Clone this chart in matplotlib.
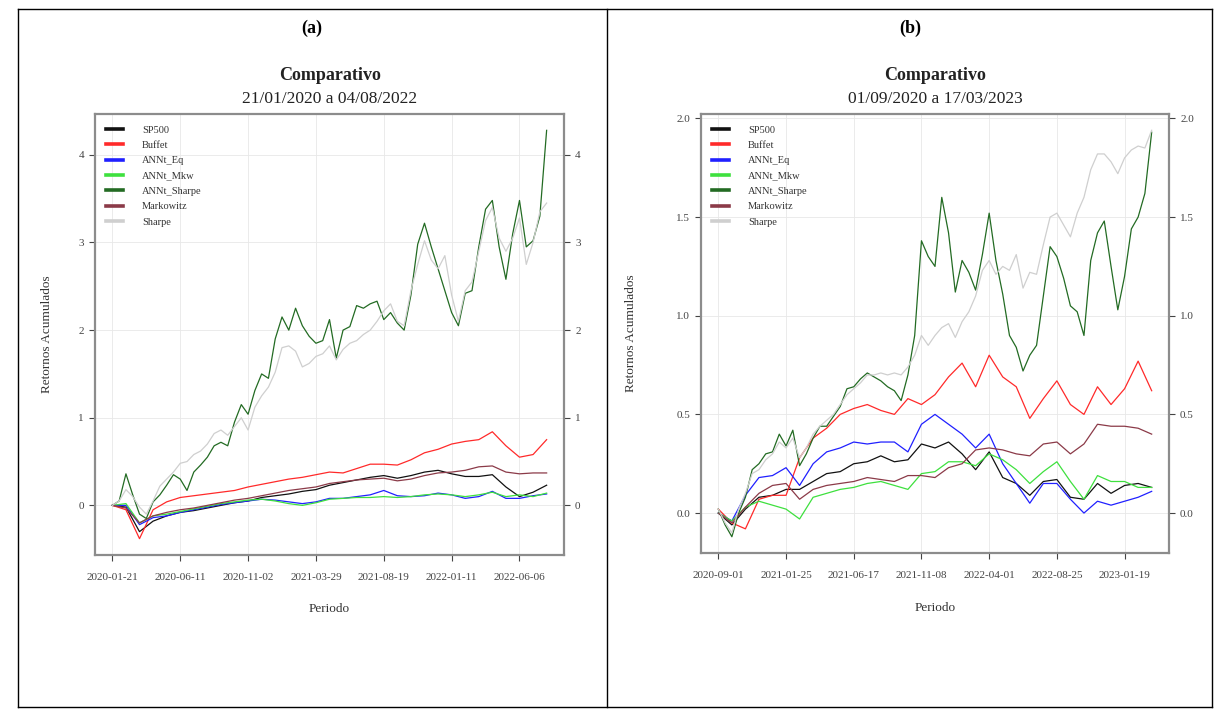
import numpy as np
import matplotlib
matplotlib.use("Agg")
import matplotlib.pyplot as plt
from matplotlib.lines import Line2D

plt.rcParams['font.family'] = ['Liberation Serif', 'DejaVu Serif']

# trading-day index of each sample (every 10 / every 20 sessions)
days10 = np.arange(0, 641, 10)
days20 = np.arange(0, 641, 20)

names = ["SP500", "Buffet", "ANNt_Eq", "ANNt_Mkw", "ANNt_Sharpe", "Markowitz", "Sharpe"]
colors = ["#111111", "#ff2a2a", "#2020ff", "#3ee03e", "#236b23", "#8b3a48", "#cfcfcf"]

# ---- panel (a): 21/01/2020 a 04/08/2022 ----
ticks_a = ["2020-01-21", "2020-06-11", "2020-11-02", "2021-03-29",
           "2021-08-19", "2022-01-11", "2022-06-06"]

sp500_a = [0.00, -0.02, -0.30, -0.18, -0.12, -0.08, -0.06, -0.03, 0.00, 0.03,
           0.05, 0.09, 0.11, 0.13, 0.16, 0.18, 0.23, 0.26, 0.29, 0.32,
           0.34, 0.31, 0.34, 0.38, 0.40, 0.36, 0.33, 0.33, 0.35, 0.21,
           0.10, 0.15, 0.23]
buffet_a = [0.00, -0.05, -0.38, -0.05, 0.04, 0.09, 0.11, 0.13, 0.15, 0.17,
            0.21, 0.24, 0.27, 0.30, 0.32, 0.35, 0.38, 0.37, 0.42, 0.47,
            0.47, 0.46, 0.52, 0.60, 0.64, 0.70, 0.73, 0.75, 0.84, 0.68,
            0.55, 0.58, 0.75]
ann_eq_a = [0.00, 0.00, -0.22, -0.14, -0.12, -0.08, -0.05, -0.02, 0.01, 0.03,
            0.05, 0.07, 0.06, 0.04, 0.02, 0.04, 0.08, 0.08, 0.10, 0.12,
            0.17, 0.11, 0.10, 0.11, 0.14, 0.12, 0.08, 0.10, 0.16, 0.08,
            0.08, 0.11, 0.13]
ann_mkw_a = [0.00, 0.02, -0.20, -0.12, -0.10, -0.07, -0.04, -0.01, 0.02, 0.04,
             0.06, 0.07, 0.05, 0.02, 0.00, 0.03, 0.07, 0.08, 0.09, 0.09,
             0.10, 0.09, 0.10, 0.12, 0.13, 0.12, 0.10, 0.12, 0.15, 0.10,
             0.12, 0.10, 0.14]
ann_sharpe_a = [0.00, 0.05, 0.36, 0.12, -0.10, -0.15, 0.04, 0.12, 0.23, 0.35,
                0.30, 0.17, 0.38, 0.46, 0.55, 0.68, 0.72, 0.68, 0.95, 1.15,
                1.04, 1.31, 1.50, 1.45, 1.90, 2.15, 2.00, 2.25, 2.05, 1.93,
                1.85, 1.88, 2.12, 1.68, 2.00, 2.04, 2.28, 2.25, 2.30, 2.33,
                2.12, 2.20, 2.08, 2.00, 2.40, 2.98, 3.22, 2.95, 2.70, 2.45,
                2.20, 2.05, 2.42, 2.45, 2.95, 3.38, 3.48, 2.95, 2.58, 3.10,
                3.48, 2.95, 3.02, 3.30, 4.28]
markowitz_a = [0.00, -0.03, -0.20, -0.12, -0.08, -0.05, -0.03, 0.00, 0.03, 0.06,
               0.08, 0.11, 0.14, 0.17, 0.19, 0.21, 0.25, 0.27, 0.29, 0.30,
               0.31, 0.28, 0.30, 0.34, 0.37, 0.38, 0.40, 0.44, 0.45, 0.38,
               0.36, 0.37, 0.37]
sharpe_a = [0.00, 0.05, 0.18, 0.10, -0.02, -0.10, 0.05, 0.22, 0.30, 0.38,
            0.48, 0.50, 0.58, 0.62, 0.70, 0.82, 0.86, 0.80, 0.90, 1.00,
            0.86, 1.12, 1.25, 1.35, 1.52, 1.80, 1.82, 1.76, 1.58, 1.62,
            1.70, 1.73, 1.82, 1.66, 1.78, 1.85, 1.88, 1.95, 2.00, 2.10,
            2.22, 2.30, 2.10, 2.05, 2.45, 2.75, 3.02, 2.80, 2.70, 2.85,
            2.40, 2.10, 2.45, 2.55, 2.90, 3.25, 3.40, 3.05, 2.90, 3.05,
            3.28, 2.75, 3.00, 3.35, 3.45]

# ---- panel (b): 01/09/2020 a 17/03/2023 ----
ticks_b = ["2020-09-01", "2021-01-25", "2021-06-17", "2021-11-08",
           "2022-04-01", "2022-08-25", "2023-01-19"]

sp500_b = [0.00, -0.06, 0.02, 0.08, 0.09, 0.12, 0.12, 0.16, 0.20, 0.21,
           0.25, 0.26, 0.29, 0.26, 0.27, 0.35, 0.33, 0.36, 0.30, 0.22,
           0.31, 0.18, 0.15, 0.09, 0.16, 0.17, 0.08, 0.07, 0.15, 0.10,
           0.14, 0.15, 0.13]
buffet_b = [0.02, -0.05, -0.08, 0.07, 0.09, 0.09, 0.28, 0.38, 0.43, 0.50,
            0.53, 0.55, 0.52, 0.50, 0.58, 0.55, 0.60, 0.69, 0.76, 0.64,
            0.80, 0.69, 0.64, 0.48, 0.58, 0.67, 0.55, 0.50, 0.64, 0.55,
            0.63, 0.77, 0.62]
ann_eq_b = [0.00, -0.04, 0.09, 0.18, 0.19, 0.23, 0.14, 0.25, 0.31, 0.33,
            0.36, 0.35, 0.36, 0.36, 0.31, 0.45, 0.50, 0.45, 0.40, 0.33,
            0.40, 0.25, 0.15, 0.05, 0.15, 0.15, 0.07, 0.00, 0.06, 0.04,
            0.06, 0.08, 0.11]
ann_mkw_b = [0.00, -0.04, 0.03, 0.06, 0.04, 0.02, -0.03, 0.08, 0.10, 0.12,
             0.13, 0.15, 0.16, 0.14, 0.12, 0.20, 0.21, 0.26, 0.26, 0.24,
             0.30, 0.27, 0.22, 0.15, 0.21, 0.26, 0.16, 0.07, 0.19, 0.16,
             0.16, 0.13, 0.13]
ann_sharpe_b = [0.02, -0.06, -0.12, 0.00, 0.08, 0.22, 0.25, 0.30, 0.31, 0.40,
                0.34, 0.42, 0.24, 0.30, 0.38, 0.44, 0.44, 0.49, 0.54, 0.63,
                0.64, 0.68, 0.71, 0.69, 0.67, 0.64, 0.62, 0.57, 0.70, 0.90,
                1.38, 1.30, 1.25, 1.60, 1.42, 1.12, 1.28, 1.22, 1.13, 1.31,
                1.52, 1.28, 1.11, 0.90, 0.84, 0.72, 0.80, 0.85, 1.10, 1.35,
                1.30, 1.19, 1.05, 1.02, 0.90, 1.28, 1.42, 1.48, 1.25, 1.03,
                1.20, 1.44, 1.50, 1.62, 1.93]
markowitz_b = [0.00, -0.05, 0.03, 0.10, 0.14, 0.15, 0.07, 0.12, 0.14, 0.15,
               0.16, 0.18, 0.17, 0.16, 0.19, 0.19, 0.18, 0.23, 0.25, 0.32,
               0.33, 0.32, 0.30, 0.29, 0.35, 0.36, 0.30, 0.35, 0.45, 0.44,
               0.44, 0.43, 0.40]
sharpe_b = [0.02, -0.05, -0.10, 0.02, 0.10, 0.20, 0.22, 0.27, 0.30, 0.36,
            0.33, 0.38, 0.28, 0.33, 0.40, 0.44, 0.47, 0.50, 0.55, 0.60,
            0.63, 0.66, 0.70, 0.70, 0.71, 0.70, 0.71, 0.70, 0.74, 0.80,
            0.90, 0.85, 0.90, 0.94, 0.96, 0.89, 0.97, 1.02, 1.10, 1.23,
            1.28, 1.21, 1.25, 1.23, 1.31, 1.14, 1.22, 1.21, 1.36, 1.50,
            1.52, 1.46, 1.40, 1.52, 1.60, 1.74, 1.82, 1.82, 1.78, 1.72,
            1.80, 1.84, 1.86, 1.85, 1.94]

W, H = 1214, 709
fig = plt.figure(figsize=(W / 100, H / 100), dpi=100)


def px_axes(left, top, right, bottom):
    return fig.add_axes([left / W, 1 - bottom / H, (right - left) / W, (bottom - top) / H])


def draw_panel(ax, series, ticks, yticks, ylabels):
    for name, color in zip(names, colors):
        x, y = series[name]
        ax.plot(x, y, color=color, lw=0.9, label=name)
    vals = np.concatenate([np.asarray(series[n][1]) for n in names])
    lo, hi = vals.min(), vals.max()
    pad = 0.04 * (hi - lo)
    ax.set_ylim(lo - pad, hi + pad)
    ax.set_xlim(-0.04 * 640, 640 * 1.04)
    ax.set_xticks(np.arange(0, 601, 100))
    ax.set_xticklabels(ticks)
    ax.set_yticks(yticks)
    ax.set_yticklabels(ylabels)
    ax.tick_params(axis="x", labelsize=8, colors="#444444", length=4, width=0.8, pad=9)
    ax.tick_params(axis="y", labelsize=8, colors="#444444", length=4, width=0.8,
                   right=True, labelright=True, pad=4)
    for s in ax.spines.values():
        s.set_color("#8c8c8c")
        s.set_linewidth(1.6)
    ax.grid(color="#e8e8e8", lw=0.6)
    ax.set_axisbelow(True)
    ax.set_xlabel("Periodo", fontsize=9.5, color="#333333")
    ax.set_ylabel("Retornos Acumulados", fontsize=9.5, color="#333333")
    leg = ax.legend(loc="upper left", frameon=False, fontsize=7.5, handlelength=1.6,
                    handletextpad=1.8, labelspacing=0.58, borderaxespad=0.5, borderpad=0.6)
    for ln in leg.get_lines():
        ln.set_linewidth(2.6)
    for t in leg.get_texts():
        t.set_color("#333333")


series_a = {
    "SP500": (days20, sp500_a), "Buffet": (days20, buffet_a),
    "ANNt_Eq": (days20, ann_eq_a), "ANNt_Mkw": (days20, ann_mkw_a),
    "ANNt_Sharpe": (days10, ann_sharpe_a), "Markowitz": (days20, markowitz_a),
    "Sharpe": (days10, sharpe_a),
}
series_b = {
    "SP500": (days20, sp500_b), "Buffet": (days20, buffet_b),
    "ANNt_Eq": (days20, ann_eq_b), "ANNt_Mkw": (days20, ann_mkw_b),
    "ANNt_Sharpe": (days10, ann_sharpe_b), "Markowitz": (days20, markowitz_b),
    "Sharpe": (days10, sharpe_b),
}

ax_a = px_axes(95, 114, 564, 555)
draw_panel(ax_a, series_a, ticks_a, [0, 1, 2, 3, 4], ["0", "1", "2", "3", "4"])
ax_a.yaxis.set_label_coords(-0.09, 0.5)
ax_a.xaxis.set_label_coords(0.5, -0.108)

ax_b = px_axes(701, 114, 1169, 553)
draw_panel(ax_b, series_b, ticks_b, [0, 0.5, 1.0, 1.5, 2.0], ["0.0", "0.5", "1.0", "1.5", "2.0"])
ax_b.yaxis.set_label_coords(-0.137, 0.5)
ax_b.xaxis.set_label_coords(0.5, -0.112)

# titles above each panel
for cx, sub in [(330, "21/01/2020 a 04/08/2022"), (935, "01/09/2020 a 17/03/2023")]:
    fig.text(cx / W, 1 - 75 / H, "Comparativo", ha="center", va="center",
             fontsize=13, fontweight="bold", color="#222222")
    fig.text(cx / W, 1 - 99 / H, sub, ha="center", va="center", fontsize=12.5, color="#222222")

fig.text(312 / W, 1 - 28 / H, "(a)", ha="center", va="center", fontsize=13, fontweight="bold")
fig.text(910 / W, 1 - 28 / H, "(b)", ha="center", va="center", fontsize=13, fontweight="bold")


# table frame around the two cells
def fig_line(x0, y0, x1, y1):
    fig.add_artist(Line2D([x0 / W, x1 / W], [1 - y0 / H, 1 - y1 / H],
                          transform=fig.transFigure, color="black", lw=1.0))


fig_line(18, 9, 1212, 9)
fig_line(18, 707, 1212, 707)
fig_line(18, 9, 18, 707)
fig_line(1212, 9, 1212, 707)
fig_line(607, 9, 607, 707)

fig.savefig("out.png", dpi=100)
